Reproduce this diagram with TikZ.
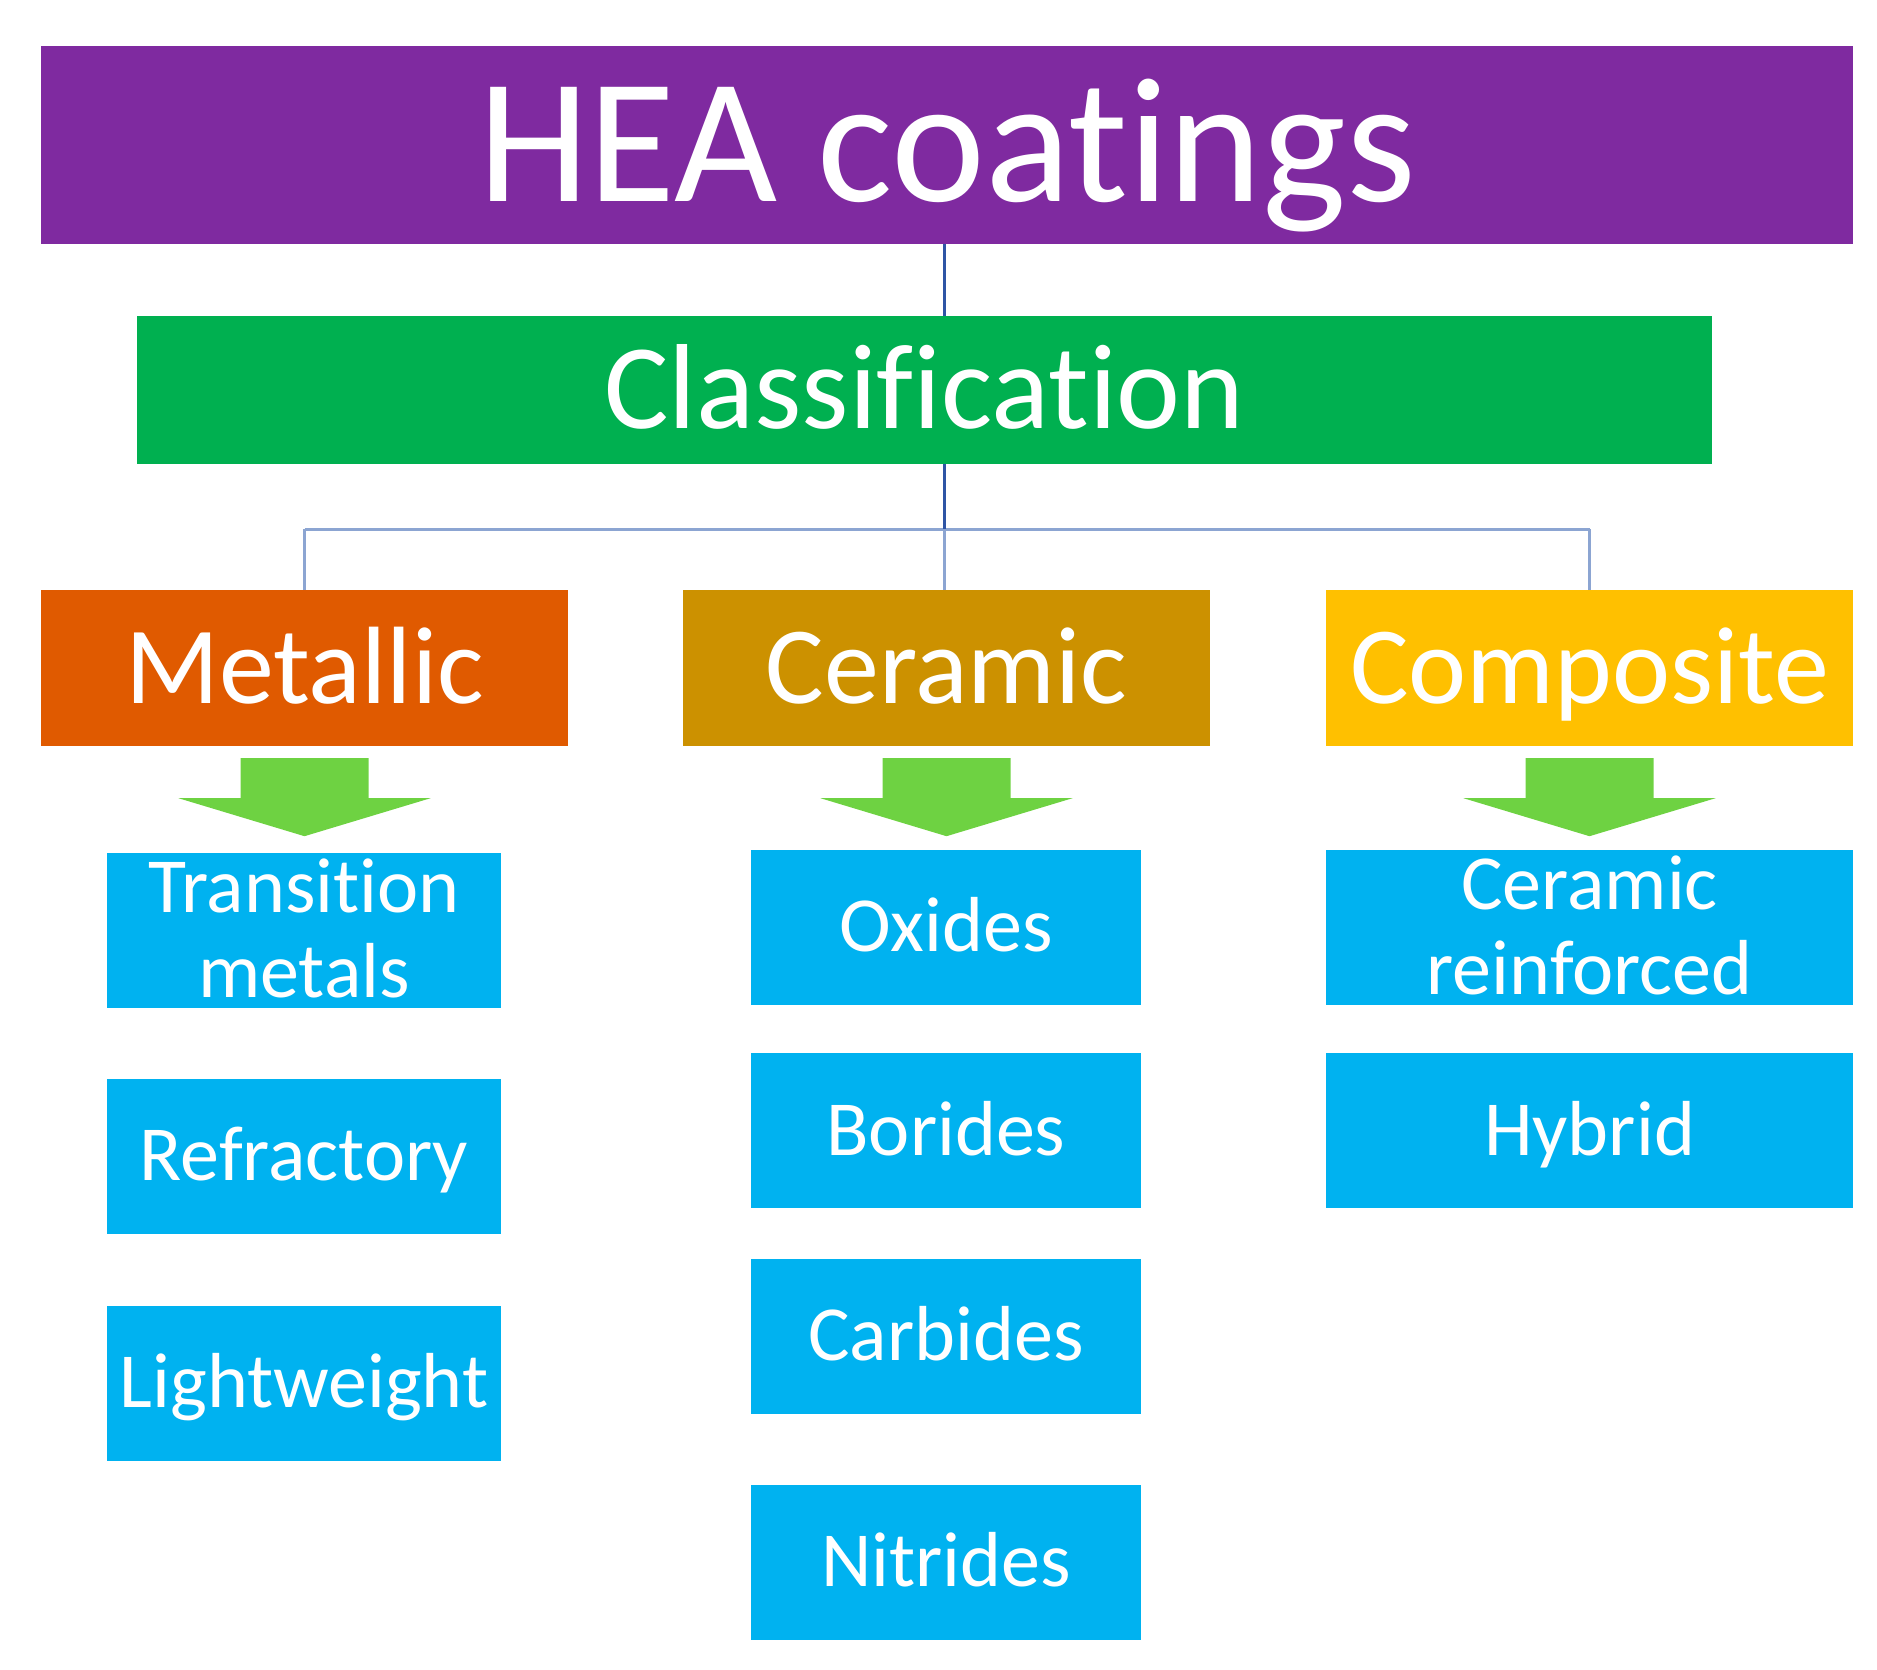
\documentclass[tikz,border=0pt]{standalone}
\usepackage{fontspec}
\setmainfont{Carlito}[RawFeature={-liga;-clig;-dlig;-calt}]

\definecolor{heapurple}{RGB}{127,42,160}
\definecolor{clsgreen}{RGB}{0,176,80}
\definecolor{metalorange}{RGB}{224,90,0}
\definecolor{ceramgold}{RGB}{204,145,0}
\definecolor{compoyellow}{RGB}{255,192,0}
\definecolor{itemblue}{RGB}{0,178,240}
\definecolor{arrowgreen}{RGB}{110,210,66}
\definecolor{linedark}{RGB}{47,85,165}
\definecolor{linelight}{RGB}{140,165,210}

\begin{document}
\begin{tikzpicture}[x=1pt, y=-1pt,
        box/.style={rectangle, inner sep=0pt, text=white, align=center},
        toplevel/.style={box, fill=heapurple, minimum width=1812pt, minimum height=198pt,
            font=\fontsize{178}{190}\selectfont, text height=112pt, text depth=0pt},
        classbox/.style={box, fill=clsgreen, minimum width=1575pt, minimum height=148pt,
            font=\fontsize{121}{130}\selectfont, text height=76pt, text depth=0pt},
        catbox/.style={box, minimum width=527pt, minimum height=156pt,
            font=\fontsize{110}{120}\selectfont, text height=70pt, text depth=0pt},
        itembox/.style={box, fill=itemblue, minimum height=155pt,
            font=\fontsize{78}{85}\selectfont},
        oneline/.style={text height=49pt, text depth=0pt},
        twoline/.style={text height=134pt, text depth=0pt},
        topline/.style={draw=linedark, line width=3pt},
        branch/.style={draw=linelight, line width=3pt}]

    \useasboundingbox (0,0) rectangle (1877,1670);

    \node[toplevel] (hea) at (947, 145) {HEA coatings};
    \node[classbox] (cls) at (924.5, 390) {Classification};

    \node[catbox, fill=metalorange] (metal) at (304.5, 668) {Metallic};
    \node[catbox, fill=ceramgold]   (ceram) at (946.5, 668) {Ceramic};
    \node[catbox, fill=compoyellow] (compo) at (1589.5, 668) {Composite};

    % metallic column
    \node[itembox, minimum width=394pt, twoline] (trans) at (304, 930.5) {Transition\\metals};
    \node[itembox, minimum width=394pt, oneline] (refr) at (304, 1156) {Refractory};
    \node[itembox, minimum width=394pt, oneline] (light) at (304, 1383) {Lightweight};

    % ceramic column
    \node[itembox, minimum width=390pt, oneline] (oxi) at (946, 927) {Oxides};
    \node[itembox, minimum width=390pt, oneline] (bor) at (946, 1130.5) {Borides};
    \node[itembox, minimum width=390pt, oneline] (carb) at (946, 1336) {Carbides};
    \node[itembox, minimum width=390pt, oneline] (nitr) at (946, 1562) {Nitrides};

    % composite column
    \node[itembox, minimum width=527pt, twoline] (cerr) at (1589.5, 927) {Ceramic\\reinforced};
    \node[itembox, minimum width=527pt, oneline] (hyb) at (1589.5, 1130.5) {Hybrid};

    \coordinate (hub) at (944, 529);

    \draw[branch] (metal.north |- hub) -- (compo.north |- hub);
    \draw[branch] (metal.north |- hub) -- (metal.north);
    \draw[branch] (hub) -- (hub |- ceram.north);
    \draw[branch] (compo.north |- hub) -- (compo.north);
    \draw[topline] (hub |- hea.south) -- (hub |- cls.north);
    \draw[topline] (hub |- cls.south) -- (hub);

    \foreach \n in {metal, ceram, compo}
        \fill[arrowgreen, shift={(\n.south)}] (-64,12) -- (64,12) -- (64,52) -- (126,52)
            -- (0,90) -- (-126,52) -- (-64,52) -- cycle;
\end{tikzpicture}
\end{document}
